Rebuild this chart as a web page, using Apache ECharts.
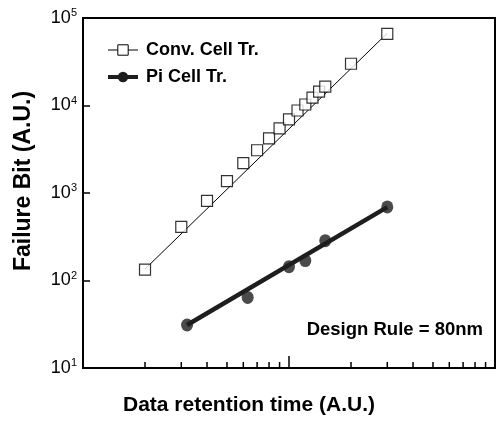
<!DOCTYPE html>
<html>
<head>
<meta charset="utf-8">
<script src="https://cdn.jsdelivr.net/npm/echarts@6/dist/echarts.min.js"></script>
<style>
html,body{margin:0;padding:0;background:#fff;}
#chart{width:498px;height:421px;}
</style>
</head>
<body>
<div id="chart"></div>
<script>
// Conventional cell transistor: measured points
const convTime = [2, 3, 4, 5, 6, 7, 8, 9, 10, 11, 12, 13, 14, 15, 20, 30];
const convFail = [133, 411, 811, 1370, 2190, 3080, 4220, 5480, 6930, 8770, 10260, 12330, 14420, 16440, 30000, 65800];
// Conventional fit line endpoints
const convFitTime = [2, 30];
const convFitFail = [135, 67000];
// Pi cell transistor: measured points
const piTime = [3.2, 6.3, 10, 12, 15, 30];
const piFail = [31, 64, 144, 169, 285, 693];
// Pi fit line endpoints
const piFitTime = [3.2, 30];
const piFitFail = [31, 690];
// Axis ticks
const xMinorTicks = [2, 3, 4, 5, 6, 7, 8, 9, 20, 30, 40, 50, 60, 70, 80, 90];
const yExponents = {10: '1', 100: '2', 1000: '3', 10000: '4', 100000: '5'};

const zip = (a, b) => a.map((v, i) => [v, b[i]]);
const FONT = 'Liberation Sans, Arial, sans-serif';

const chart = echarts.init(document.getElementById('chart'), null, {renderer: 'canvas'});
chart.setOption({
  animation: false,
  backgroundColor: '#fff',
  textStyle: {fontFamily: FONT, color: '#000'},
  grid: {left: 83, right: 3, top: 18, bottom: 53, show: true, borderColor: '#000', borderWidth: 2, backgroundColor: 'transparent'},
  xAxis: {
    type: 'log', logBase: 10, min: 1, max: 100,
    axisLine: {lineStyle: {color: '#000', width: 2}},
    axisTick: {inside: true, length: 12, lineStyle: {color: '#000', width: 1.5}},
    axisLabel: {show: false},
    splitLine: {show: false}
  },
  yAxis: {
    type: 'log', logBase: 10, min: 10, max: 100000,
    axisLine: {lineStyle: {color: '#000', width: 2}},
    axisTick: {inside: true, length: 7, lineStyle: {color: '#000', width: 1.5}},
    axisLabel: {
      margin: 6,
      formatter: v => '{b|10}{s|' + (yExponents[Math.round(v)] || '') + '}',
      rich: {
        b: {fontSize: 18, fontFamily: FONT, color: '#000'},
        s: {fontSize: 11, fontFamily: FONT, color: '#000', padding: [0, 0, 10, 0]}
      }
    },
    splitLine: {show: false}
  },
  legend: {
    left: 101, top: 36, orient: 'vertical',
    itemWidth: 30, itemHeight: 13, itemGap: 9,
    textStyle: {fontSize: 18, fontWeight: 'bold', fontFamily: FONT, color: '#000', padding: [0, 0, 0, 3]},
    data: [
      {name: 'Conv. Cell Tr.', lineStyle: {color: '#000', width: 1}, itemStyle: {color: '#fff', borderColor: '#000', borderWidth: 1}},
      {name: 'Pi Cell Tr.', lineStyle: {color: '#1e1e1e', width: 4}, itemStyle: {color: '#1e1e1e'}}
    ]
  },
  series: [
    {
      name: 'Conv. Cell Tr.', type: 'line', data: zip(convFitTime, convFitFail),
      showSymbol: false, symbol: 'rect', symbolSize: 11,
      lineStyle: {color: '#000', width: 1},
      itemStyle: {color: '#fff', borderColor: '#000', borderWidth: 1}, z: 2
    },
    {
      name: 'Conv. Cell Tr.', type: 'scatter', data: zip(convTime, convFail),
      symbol: 'rect', symbolSize: 11,
      itemStyle: {color: '#fff', borderColor: '#000', borderWidth: 1.2}, z: 3
    },
    {
      name: 'Pi Cell Tr.', type: 'line', data: zip(piFitTime, piFitFail),
      showSymbol: false, symbol: 'circle', symbolSize: 12,
      lineStyle: {color: '#1e1e1e', width: 4.5},
      itemStyle: {color: '#1e1e1e'}, z: 2
    },
    {
      name: 'Pi Cell Tr.', type: 'scatter', data: zip(piTime, piFail),
      symbol: 'circle', symbolSize: [12, 13],
      itemStyle: {color: '#1e1e1e'}, z: 3
    },
    {
      type: 'custom', silent: true, data: xMinorTicks.map(v => [v]),
      encode: {x: 0},
      renderItem: (params, api) => {
        const p = api.coord([api.value(0), 10]);
        return {type: 'line', shape: {x1: p[0], y1: p[1], x2: p[0], y2: p[1] - 6},
                style: {stroke: '#000', lineWidth: 1.5}};
      }, z: 4
    }
  ],
  graphic: [
    {type: 'text', left: 'center', x: 0, top: 395,
     style: {text: 'Data retention time (A.U.)', fontSize: 21, fontWeight: 'bold', fontFamily: FONT, fill: '#000'}},
    {type: 'text', x: 24, y: 181, rotation: Math.PI / 2,
     style: {text: 'Failure Bit (A.U.)', fontSize: 23, fontWeight: 'bold', fontFamily: FONT, fill: '#000', align: 'center', verticalAlign: 'middle'}},
    {type: 'text', x: 483, y: 330,
     style: {text: 'Design Rule = 80nm', fontSize: 18.5, fontWeight: 'bold', fontFamily: FONT, fill: '#000', align: 'right', verticalAlign: 'middle'}}
  ]
});
</script>
</body>
</html>
